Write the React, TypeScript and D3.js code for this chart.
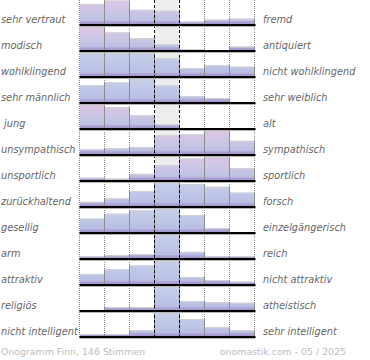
import React from "react"
import * as d3 from "d3"

// Onogramm: 13 Gegensatzpaare, je 7 Stufen
const leftLabels = [
  "sehr vertraut", "modisch", "wohlklingend", "sehr männlich", " jung",
  "unsympathisch", "unsportlich", "zurückhaltend", "gesellig", "arm",
  "attraktiv", "religiös", "nicht intelligent",
]
const rightLabels = [
  "fremd", "antiquiert", "nicht wohlklingend", "sehr weiblich", "alt",
  "sympathisch", "sportlich", "forsch", "einzelgängerisch", "reich",
  "nicht attraktiv", "atheistisch", "sehr intelligent",
]
// relative Stimmenanteile je Stufe (links -> rechts)
const votes = [
  [20.5, 24, 14.5, 13.5, 2.5, 4.5, 5.5],
  [24, 18, 12, 6, 0.5, 0, 3.5],
  [24, 24, 24, 18, 8, 11, 9.5],
  [17, 20, 24, 17, 6, 4, 0],
  [23.3, 20.6, 12.6, 3.6, 0, 0, 0],
  [5, 6, 7, 19, 20.2, 24, 13.5],
  [2.3, 1.3, 6.3, 15.3, 22, 24, 12],
  [4.3, 7.7, 15.3, 24, 22.5, 19.7, 13.7],
  [13.7, 18.7, 22.3, 24, 17.3, 4, 0],
  [1.7, 2.7, 4, 24, 6.3, 1.7, 2],
  [10.3, 15, 19, 24, 7, 4, 2.4],
  [0, 3, 3, 24, 9, 8, 7.4],
  [2, 2, 5.7, 24, 17.4, 9, 5.7],
]
const footerLeft = "Onogramm Finn, 146 Stimmen"
const footerRight = "onomastik.com - 05 / 2025"

// rows drawn with the warm (pink) gradient
const warmRows = [0, 1, 4, 5, 6]

const W = 370
const H = 360
const font = "'DejaVu Sans', sans-serif"

export default function App() {
  const x = d3.scaleLinear().domain([0, 7]).range([79.5, 254.5])
  const base = d3.scaleLinear().domain([0, leftLabels.length - 1]).range([25, 337])
  const gridBottom = base(leftLabels.length - 1) + 1

  return (
    <div style={{ position: "absolute", left: 0, top: 0 }}>
      <svg width={W} height={H} style={{ display: "block", background: "#fff" }}>
        <defs>
          {votes.map((_, r) => {
            const b = base(r)
            const warm = warmRows.includes(r)
            return (
              <linearGradient key={r} id={`g${r}`} gradientUnits="userSpaceOnUse"
                x1={0} x2={0} y1={b - 25} y2={b - 1}>
                {warm ? (
                  <>
                    <stop offset="0" stopColor="#e0c3e3" />
                    <stop offset="0.45" stopColor="#cdc6e6" />
                    <stop offset="0.86" stopColor="#bcc1e4" />
                    <stop offset="0.9" stopColor="#b0a9d8" />
                    <stop offset="1" stopColor="#a295ca" />
                  </>
                ) : (
                  <>
                    <stop offset="0" stopColor="#c7d0ea" />
                    <stop offset="0.86" stopColor="#b9bfe4" />
                    <stop offset="0.9" stopColor="#aea8d7" />
                    <stop offset="1" stopColor="#a294c9" />
                  </>
                )}
              </linearGradient>
            )
          })}
        </defs>

        {/* mittlere Spalte */}
        <rect x={x(3) + 0.5} y={0} width={x(4) - x(3)} height={gridBottom - 2} fill="#ededed" />

        {/* gepunktete Gitterlinien */}
        {[0, 1, 2, 5, 6, 7].map((k) => (
          <line key={k} x1={x(k)} x2={x(k)} y1={0} y2={gridBottom}
            stroke="#8a8a8a" strokeWidth={1} strokeDasharray="1,1" />
        ))}

        {votes.map((row, r) => {
          const b = base(r)
          const h = d3.scaleLinear().domain([0, d3.max(row) as number]).range([0, 23.5])
          const bottom = b - 1
          return (
            <g key={r}>
              {row.map((v, i) =>
                v > 0 ? (
                  <g key={i}>
                    <rect x={x(i) + 0.5} y={bottom - h(v)} width={x(i + 1) - x(i)} height={h(v)}
                      fill={`url(#g${r})`} />
                    <line x1={x(i) + 0.5} x2={x(i + 1) + 0.5} y1={bottom - h(v) + 0.5} y2={bottom - h(v) + 0.5}
                      stroke="#d2d2d2" strokeWidth={1} />
                  </g>
                ) : null
              )}
              {d3.range(1, 8).map((k) => {
                const hh = Math.max(h(row[k - 1]), k < 7 ? h(row[k]) : 0)
                return hh > 0 ? (
                  <line key={k} x1={x(k)} x2={x(k)} y1={bottom - hh} y2={bottom}
                    stroke="#8c8c8c" strokeWidth={1} />
                ) : null
              })}
            </g>
          )
        })}

        {/* gestrichelte Mitte */}
        {[3, 4].map((k) => (
          <line key={k} x1={x(k)} x2={x(k)} y1={0} y2={gridBottom}
            stroke="#000" strokeWidth={1} strokeDasharray="3,2" />
        ))}

        {/* Grundlinien */}
        {votes.map((_, r) => {
          const b = base(r)
          return (
            <g key={r}>
              <rect x={x(0)} y={b - 1} width={x(7) - x(0) + 1} height={2} fill="#000" />
              <rect x={x(0)} y={b + 1} width={x(7) - x(0) + 1} height={1} fill="#b5b5b5" />
            </g>
          )
        })}

        {leftLabels.map((t, r) => (
          <text key={`l${r}`} x={1} y={base(r) - 2} fontFamily={font} fontSize={9.8}
            fontStyle="italic" fill="#666" style={{ whiteSpace: "pre" }}>
            {t}
          </text>
        ))}
        {rightLabels.map((t, r) => (
          <text key={`r${r}`} x={263} y={base(r) - 2} fontFamily={font} fontSize={9.8}
            fontStyle="italic" fill="#666">
            {t}
          </text>
        ))}

        <text x={1} y={355} fontFamily={font} fontSize={9.4} fill="#bdbdbd">{footerLeft}</text>
        <text x={346} y={355} fontFamily={font} fontSize={9.4} fill="#bdbdbd" textAnchor="end">
          {footerRight}
        </text>
      </svg>
    </div>
  )
}
